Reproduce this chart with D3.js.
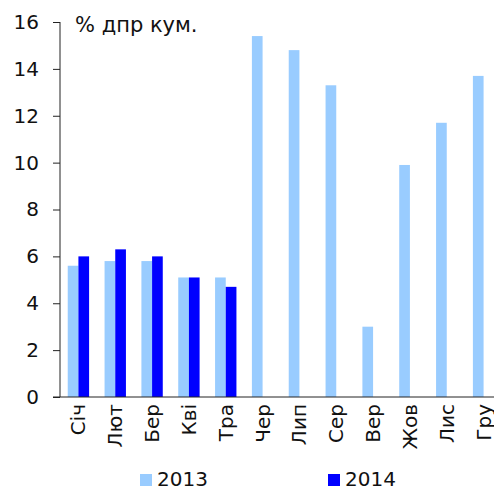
<!DOCTYPE html>
<html>
<head>
<meta charset="utf-8">
<script src="https://cdn.jsdelivr.net/npm/d3@7"></script>
<style>
  body { margin: 0; background: #fff; }
  text { font-family: "DejaVu Sans", Verdana, sans-serif; fill: #111; }
</style>
</head>
<body>
<div class="bigvis"></div>
<script>
var months = ["Січ", "Лют", "Бер", "Кві", "Тра", "Чер", "Лип", "Сер", "Вер", "Жов", "Лис", "Гру"]
var years = ["2013", "2014"]
var values2013 = [5.6, 5.8, 5.8, 5.1, 5.1, 15.4, 14.8, 13.3, 3.0, 9.9, 11.7, 13.7]
var values2014 = [6.0, 6.3, 6.0, 5.1, 4.7]
var yTicks = [0, 2, 4, 6, 8, 10, 12, 14, 16]
var colors = ["#99ccff", "#0000ff"]

var margin = {top: 22, right: -8, left: 60, bottom: 91}
var width = 494 - margin.left - margin.right
var height = 488 - margin.top - margin.bottom
var fontSize = "20px"

var svg = d3.select(".bigvis").append("svg")
        .attr("width", 494)
        .attr("height", 488)
    .append("g")
        .attr("transform", "translate(" + margin.left + "," + margin.top + ")")

var x = d3.scaleBand().domain(months).range([0, width]).paddingInner(0.42).paddingOuter(0.21)
var x1 = d3.scaleBand().domain(years).range([0, x.bandwidth()])
var y = d3.scaleLinear().domain([0, 16]).range([height, 0])

var series = [values2013, values2014]

series.forEach(function(vals, s){
  svg.append("g").selectAll("rect")
      .data(vals)
    .enter().append("rect")
      .attr("x", function(d, i){ return x(months[i]) + x1(years[s]) })
      .attr("y", function(d){ return y(d) })
      .attr("width", x1.bandwidth())
      .attr("height", function(d){ return height - y(d) })
      .attr("fill", colors[s])
})

// y axis
var yAxis = svg.append("g")
    .call(d3.axisLeft(y).tickValues(yTicks).tickSize(7).tickPadding(14))
yAxis.select(".domain").attr("d", "M0," + y(16) + "V" + height).attr("stroke", "#222")
yAxis.selectAll(".tick line").attr("stroke", "#222")
yAxis.selectAll(".tick text").style("font-size", fontSize).attr("fill", "#111")
    .style("font-family", "'DejaVu Sans', Verdana, sans-serif")

// x axis
var xAxis = svg.append("g")
    .attr("transform", "translate(0," + height + ")")
    .call(d3.axisBottom(x).tickSize(0).tickPadding(0))
xAxis.select(".domain").attr("d", "M-7,0H" + width).attr("stroke", "#222")
xAxis.selectAll(".tick text")
    .style("font-size", fontSize)
    .style("font-family", "'DejaVu Sans', Verdana, sans-serif")
    .attr("fill", "#111")
    .attr("text-anchor", "end")
    .attr("dy", "0.35em")
    .attr("transform", "translate(0,7) rotate(-90)")
    .attr("y", 0)

// unit label
svg.append("text")
    .attr("x", 15)
    .attr("y", 10)
    .style("font-size", "21px")
    .text("% дпр кум.")

// legend
var legend = svg.append("g").attr("transform", "translate(" + (-margin.left) + "," + (-margin.top) + ")")
var legX = [140, 328]
years.forEach(function(yr, s){
  legend.append("rect")
      .attr("x", legX[s]).attr("y", 474)
      .attr("width", 12).attr("height", 12)
      .attr("fill", colors[s])
  legend.append("text")
      .attr("x", legX[s] + 17).attr("y", 486)
      .style("font-size", fontSize)
      .text(yr)
})
</script>
</body>
</html>
